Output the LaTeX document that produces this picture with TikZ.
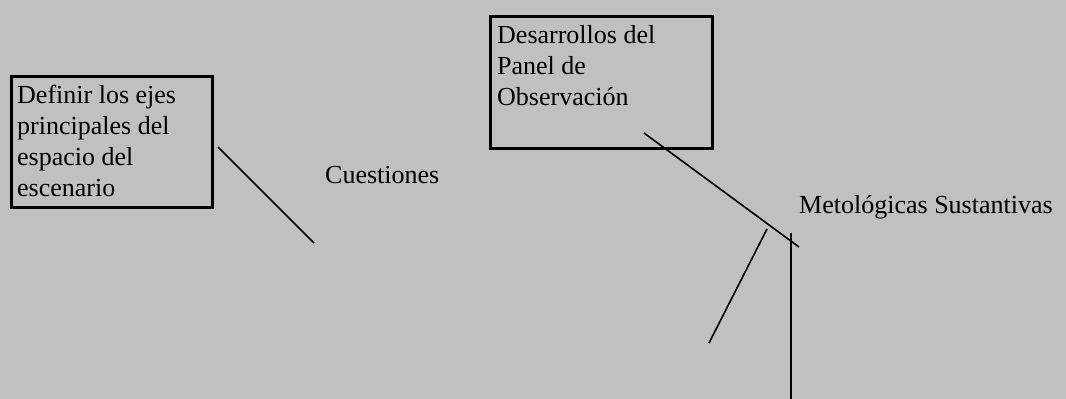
\documentclass[tikz,border=0pt]{standalone}
\usepackage{fontspec}
\setmainfont{Liberation Serif}
\usetikzlibrary{positioning}
\definecolor{fondo}{HTML}{C0C0C0}
\tikzset{
  caja/.style={draw, line width=3pt, inner sep=0pt, anchor=north west},
  texto/.style={inner sep=0pt, align=left, anchor=north west, font=\fontsize{26}{31}\selectfont},
  etiqueta/.style={inner sep=0pt, anchor=base west, font=\fontsize{26}{31}\selectfont},
  trazo/.style={line width=1.6pt}
}
\begin{document}
\begin{tikzpicture}[x=1pt,y=-1pt]
	\fill[fondo] (0,0) rectangle (1066,399);
	\useasboundingbox (0,0) rectangle (1066,399);
	\node[caja, minimum width=201pt, minimum height=131pt] (ejes) at (10,75) {};
	\node[texto] (ejestxt) at (17,85) {Definir los ejes\\principales del\\espacio del\\escenario};
	\node[caja, minimum width=222pt, minimum height=132pt] (panel) at (489,15) {};
	\node[texto] (paneltxt) at (497,25) {Desarrollos del\\Panel de\\Observación};
	\node[etiqueta] (cuest) at (325,183) {Cuestiones};
	\node[etiqueta] (metsus) at (799,213) {Metológicas Sustantivas};
	\coordinate (a1) at (218,147);
	\coordinate (a2) at (314,243);
	\coordinate (b1) at (644,133);
	\coordinate (b2) at (799,247);
	\coordinate (c1) at (767,229);
	\coordinate (c2) at (709,343);
	\coordinate (d1) at (791,233);
	\coordinate (d2) at (791,399);
	\draw[trazo] (a1) -- (a2);
	\draw[trazo] (b1) -- (b2);
	\draw[trazo] (c1) -- (c2);
	\draw[trazo] (d1) -- (d2);
\end{tikzpicture}
\end{document}
